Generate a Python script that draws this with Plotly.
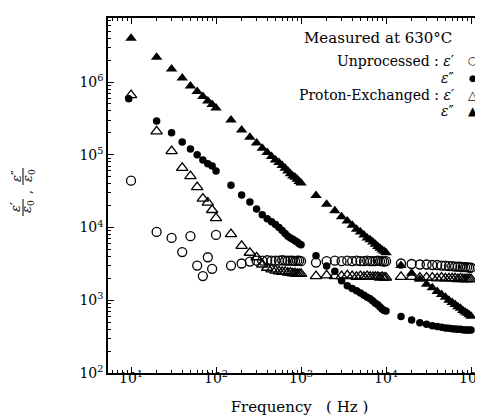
import plotly.graph_objects as go

# ---------------- data ----------------
freq = [10, 20, 30, 40, 50, 60, 70, 80, 90, 100,
        150, 200, 250, 300, 350, 400, 450, 500, 550, 600, 650, 700, 750, 800, 850, 900, 950, 1000,
        1500, 2000, 2500, 3000, 3500, 4000, 4500, 5000, 5500, 6000, 6500, 7000, 7500, 8000, 8500, 9000, 9500, 10000,
        15000, 20000, 25000, 30000, 35000, 40000, 45000, 50000, 55000, 60000, 65000, 70000, 75000, 80000, 85000,
        90000, 95000, 100000]

# the unprocessed loss point at the lowest frequency sits slightly left of 10 Hz in the figure
freq_unproc_loss = [9.4] + freq[1:]

unproc_eps1 = [4.4e4, 8.7e3, 7.2e3, 4.6e3, 7.6e3, 3.0e3, 2.15e3, 3.9e3, 2.7e3, 7.9e3,
               3.0e3, 3.2e3, 3.4e3, 3.5e3, 3.5e3, 3.55e3, 3.5e3, 3.5e3, 3.5e3, 3.55e3, 3.5e3, 3.5e3, 3.5e3, 3.5e3,
               3.45e3, 3.5e3, 3.5e3, 3.45e3,
               3.3e3, 3.45e3, 3.5e3, 3.45e3, 3.5e3, 3.45e3, 3.5e3, 3.45e3, 3.45e3, 3.5e3, 3.45e3, 3.45e3, 3.45e3,
               3.5e3, 3.45e3, 3.45e3, 3.4e3, 3.45e3,
               3.2e3, 3.15e3, 3.1e3, 3.1e3, 3.05e3, 3.05e3, 3.0e3, 3.0e3, 2.95e3, 2.95e3, 2.9e3, 2.9e3, 2.9e3,
               2.85e3, 2.85e3, 2.85e3, 2.8e3, 2.8e3]

unproc_eps2 = [5.9e5, 2.9e5, 2.0e5, 1.5e5, 1.2e5, 1.0e5, 8.5e4, 7.5e4, 7.0e4, 6.0e4,
               3.8e4, 2.8e4, 2.25e4, 1.8e4, 1.5e4, 1.32e4, 1.2e4, 1.1e4, 1.0e4, 9.1e3, 8.3e3, 7.6e3, 7.2e3,
               6.9e3, 6.6e3, 6.3e3, 6.0e3, 5.8e3,
               4.1e3, 2.95e3, 2.5e3, 1.86e3, 1.58e3, 1.45e3, 1.35e3, 1.26e3, 1.17e3, 1.1e3, 1.05e3, 980, 910,
               870, 810, 760, 725, 710,
               600, 537, 490, 468, 447, 437, 427, 417, 412, 407, 403, 398, 398, 394, 389, 389, 389, 389]

pe_eps1 = [6.6e5, 2.1e5, 1.12e5, 6.6e4, 5.1e4, 3.6e4, 2.5e4, 2.2e4, 1.74e4, 1.35e4,
           8.1e3, 5.6e3, 4.5e3, 3.9e3, 3.1e3, 2.8e3, 2.65e3, 2.55e3, 2.5e3, 2.45e3, 2.45e3, 2.4e3, 2.4e3,
           2.35e3, 2.35e3, 2.3e3, 2.3e3, 2.3e3,
           2.15e3, 2.2e3, 2.15e3, 2.15e3, 2.2e3, 2.15e3, 2.1e3, 2.15e3, 2.1e3, 2.15e3, 2.1e3, 2.1e3, 2.1e3,
           2.1e3, 2.05e3, 2.1e3, 2.05e3, 2.05e3,
           2.1e3, 2.1e3, 2.05e3, 2.05e3, 2.05e3, 2.0e3, 2.05e3, 2.0e3, 2.0e3, 2.0e3, 2.0e3, 1.95e3, 2.0e3,
           1.95e3, 1.95e3, 1.95e3, 1.95e3, 1.95e3]

pe_eps2 = [4.0e6, 2.19e6, 1.51e6, 1.14e6, 8.8e5, 7.4e5, 6.3e5, 5.5e5, 4.9e5, 4.4e5,
           3.0e5, 2.19e5, 1.74e5, 1.45e5, 1.23e5, 1.07e5, 9.5e4, 8.5e4, 7.8e4, 7.1e4, 6.5e4, 6.0e4, 5.5e4,
           5.1e4, 4.9e4, 4.6e4, 4.3e4, 4.1e4,
           2.75e4, 2.09e4, 1.70e4, 1.41e4, 1.23e4, 1.07e4, 9.5e3, 8.7e3, 7.9e3, 7.2e3, 6.8e3, 6.3e3, 5.9e3,
           5.5e3, 5.2e3, 4.9e3, 4.7e3, 4.5e3,
           3.0e3, 2.35e3, 1.95e3, 1.66e3, 1.48e3, 1.32e3, 1.20e3, 1.10e3, 1.00e3, 933, 871, 813, 776, 724,
           692, 661, 631, 603]

x_tickvals = [10, 100, 1000, 10000, 100000]
x_ticktext = ["10<sup>1</sup>", "10<sup>2</sup>", "10<sup>3</sup>", "10<sup>4</sup>", "10<sup>5</sup>"]
y_tickvals = [1e2, 1e3, 1e4, 1e5, 1e6]
y_ticktext = ["10<sup>2</sup>", "10<sup>3</sup>", "10<sup>4</sup>", "10<sup>5</sup>", "10<sup>6</sup>"]

x_minor = [m * 10 ** e for e in range(0, 6) for m in range(2, 10)]
y_minor = [m * 10 ** e for e in range(2, 7) for m in range(2, 10)]

SERIF = "DejaVu Serif"
W, H = 483, 420
L, R, T, B = 100, 0, 10, 55

fig = go.Figure()

fig.add_trace(go.Scatter(x=freq, y=unproc_eps1, mode="markers",
                         marker=dict(symbol="circle-open", size=9, color="black", line=dict(width=1.3)),
                         name="Unprocessed ε′"))
fig.add_trace(go.Scatter(x=freq_unproc_loss, y=unproc_eps2, mode="markers",
                         marker=dict(symbol="circle", size=7.5, color="black"),
                         name="Unprocessed ε″"))
fig.add_trace(go.Scatter(x=freq, y=pe_eps1, mode="markers",
                         marker=dict(symbol="triangle-up-open", size=10, color="black", line=dict(width=1.3)),
                         name="Proton-Exchanged ε′"))
fig.add_trace(go.Scatter(x=freq, y=pe_eps2, mode="markers",
                         marker=dict(symbol="triangle-up", size=10, color="black"),
                         name="Proton-Exchanged ε″"))

def px_x(p):
    return (p - L) / (W - L - R)

def px_y(p):
    return (H - B - p) / (H - T - B)

ann = []
def add_text(text, x, y, size=14, xanchor="center", angle=0, font=SERIF):
    ann.append(dict(text=text, x=px_x(x), y=px_y(y), xref="paper", yref="paper",
                    showarrow=False, xanchor=xanchor, yanchor="middle", textangle=angle,
                    font=dict(family=font, size=size, color="black")))

# legend block
add_text("Measured at 630°C", 370, 30, size=15)
add_text("Unprocessed : <i>ε</i>′", 448, 53, size=14, xanchor="right")
add_text("<i>ε</i>″", 448, 70, size=14, xanchor="right")
add_text("Proton-Exchanged : <i>ε</i>′", 448, 87, size=14, xanchor="right")
add_text("<i>ε</i>″", 448, 103, size=14, xanchor="right")
add_text("○", 465, 53, size=11, font="DejaVu Sans")
add_text("●", 465, 70, size=9, font="DejaVu Sans")
add_text("△", 465, 87, size=12, font="DejaVu Sans")
add_text("▲", 465, 103, size=12, font="DejaVu Sans")

# y-axis label as two rotated fractions
add_text("<i>ε</i>′", 8, 199, size=13, angle=-90)
add_text("<i>ε</i><sub>0</sub>", 20, 199, size=13, angle=-90)
add_text(",", 18, 184, size=13, angle=-90)
add_text("<i>ε</i>″", 8, 168, size=13, angle=-90)
add_text("<i>ε</i><sub>0</sub>", 20, 168, size=13, angle=-90)

shapes = [
    dict(type="line", xref="paper", yref="paper", x0=px_x(15), x1=px_x(15), y0=px_y(191), y1=px_y(208),
         line=dict(color="black", width=1)),
    dict(type="line", xref="paper", yref="paper", x0=px_x(15), x1=px_x(15), y0=px_y(160), y1=px_y(177),
         line=dict(color="black", width=1)),
]

axis_common = dict(showgrid=False, zeroline=False, showline=True, linecolor="black", linewidth=1.5,
                   ticks="inside", ticklen=6, tickwidth=1, tickcolor="black",
                   tickfont=dict(family=SERIF, size=14, color="black"))

fig.update_layout(
    width=W, height=H,
    margin=dict(l=L, r=R, t=T, b=B, pad=0),
    paper_bgcolor="white", plot_bgcolor="white",
    showlegend=False,
    xaxis=dict(type="log", range=[0.729, 5.235], tickmode="array", tickvals=x_tickvals, ticktext=x_ticktext,
               mirror="ticks", ticklabelstandoff=-9,
               minor=dict(tickmode="array", tickvals=x_minor, ticks="inside", ticklen=3, tickcolor="black"),
               title=dict(text="Frequency   ( Hz )", font=dict(family=SERIF, size=15, color="black"), standoff=17),
               **axis_common),
    yaxis=dict(type="log", range=[2, 6.88], tickmode="array", tickvals=y_tickvals, ticktext=y_ticktext,
               minor=dict(tickmode="array", tickvals=y_minor, ticks="inside", ticklen=3, tickcolor="black"),
               **axis_common),
    annotations=ann,
    shapes=shapes,
)

fig.write_html("out.html")
